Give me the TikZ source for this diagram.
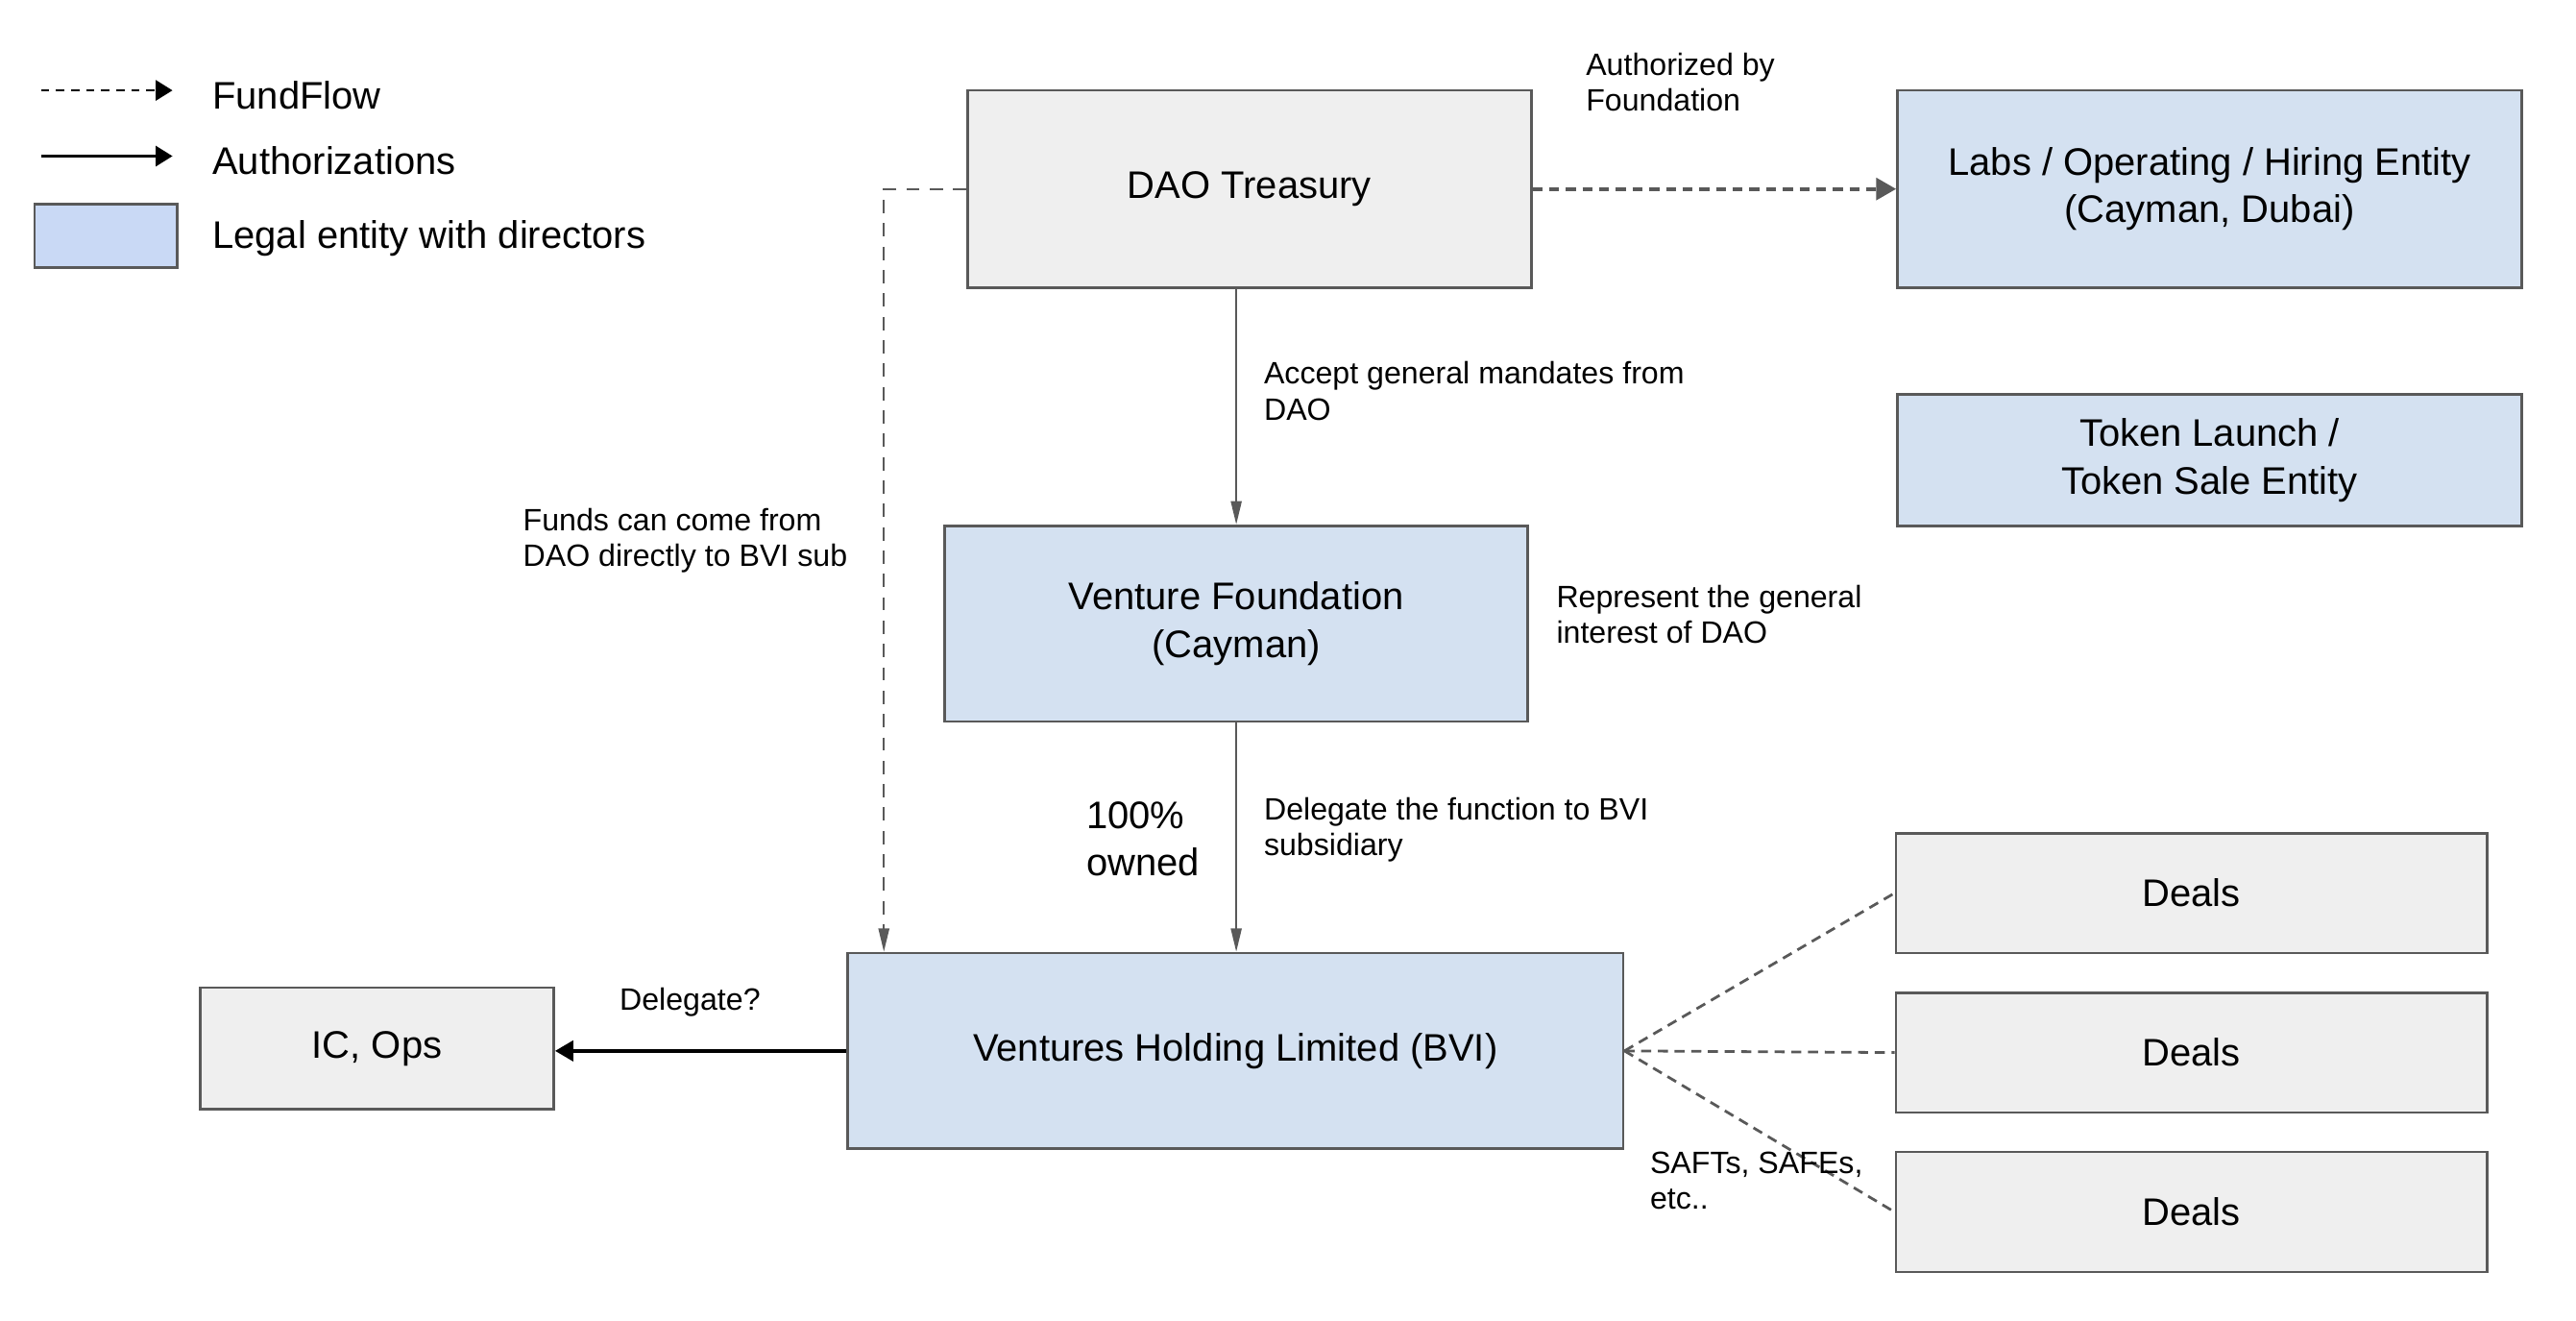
\documentclass[tikz,border=0pt]{standalone}
\usepackage{fontspec}
\setmainfont{Liberation Sans}
\usepackage{xcolor}
\usetikzlibrary{arrows.meta,positioning,calc}

\definecolor{boxline}{HTML}{595959}
\definecolor{grayfill}{HTML}{EFEFEF}
\definecolor{bluefill}{HTML}{D4E1F1}
\definecolor{legendblue}{HTML}{C9D9F5}
\newcommand{\dpx}{0.017303cm}

\begin{document}
\begin{tikzpicture}[x=0.017303cm,y=-0.017303cm,
		box/.style={draw=boxline,line width=0.8pt,fill=grayfill,align=center,inner sep=0pt,font=\fontsize{11.5}{14.3}\selectfont},
		entity/.style={box,fill=bluefill},
		note/.style={inner sep=0pt,anchor=west,align=left,font=\fontsize{9.25}{10.8}\selectfont},
		bignote/.style={note,font=\fontsize{11.5}{14.3}\selectfont},
		auth/.style={draw=boxline,line width=0.6pt,-{Triangle[length=7pt,width=3.2pt]}},
		fund/.style={draw=boxline,line width=0.6pt,dash pattern=on 4pt off 3pt,-{Triangle[length=7pt,width=3.2pt]}},
		deal/.style={draw=boxline,line width=0.8pt,dash pattern=on 3pt off 2pt}]
	\useasboundingbox (0,0) rectangle (1568,803.3);
	\draw[black,line width=0.8pt,dash pattern=on 2.5pt off 2pt,-{Triangle[length=5pt,width=6pt]}] (25,55) coordinate (legfund) -- (105,55);
	\node[bignote] (legfundtxt) at (129,58) {FundFlow};
	\draw[black,line width=0.8pt,-{Triangle[length=5pt,width=6pt]}] (25,95) coordinate (legauth) -- (105,95);
	\node[bignote] (legauthtxt) at (129,98) {Authorizations};
	\node[box,fill=legendblue,minimum width=87*\dpx,minimum height=39*\dpx] (legbox) at (64.5,143.5) {};
	\node[bignote] (legboxtxt) at (129,145) {Legal entity with directors};
	\node[box,minimum width=343*\dpx,minimum height=120*\dpx] (dao) at (760.5,115) {DAO Treasury};
	\node[entity,minimum width=380*\dpx,minimum height=120*\dpx] (labs) at (1345,115) {Labs / Operating / Hiring Entity\\(Cayman, Dubai)};
	\node[entity,minimum width=380*\dpx,minimum height=80*\dpx] (token) at (1345,280) {Token Launch /\\Token Sale Entity};
	\node[entity,minimum width=355*\dpx,minimum height=119*\dpx] (vf) at (752.5,379.5) {Venture Foundation\\(Cayman)};
	\node[entity,minimum width=472*\dpx,minimum height=119*\dpx] (vhl) at (752,639.5) {Ventures Holding Limited (BVI)};
	\node[box,minimum width=215*\dpx,minimum height=74*\dpx] (icops) at (229.5,638) {IC, Ops};
	\foreach \i/\y in {1/543.5,2/640.5,3/737.5}
		\node[box,minimum width=360*\dpx,minimum height=73*\dpx] (deals\i) at (1334,\y) {Deals};
	\draw[draw=boxline,line width=1.2pt,dash pattern=on 3pt off 2pt,-{Triangle[length=6pt,width=6.5pt]}] (dao.east) -- (labs.west);
	\node[note] (authby) at (965,50) {Authorized by\\Foundation};
	\draw[auth] (dao.south -| vf.north) -- (vf.north);
	\node[note] (mandate) at (769,238) {Accept general mandates from\\DAO};
	\node[note] (represent) at (947,374) {Represent the general\\interest of DAO};
	\draw[auth] (vf.south) -- (vhl.north -| vf.south);
	\node[note] (delegfn) at (769,505) {Delegate the function to BVI\\subsidiary};
	\node[bignote] (owned) at (661,510.5) {100\%\\owned};
	\coordinate (fundcorner) at (538,115);
	\draw[fund] (dao.west) -- (fundcorner) -- (fundcorner |- vhl.north);
	\node[note] (direct) at (318,329) {Funds can come from\\DAO directly to BVI sub};
	\draw[black,line width=1.3pt,-{Triangle[length=5.5pt,width=6pt]}] (vhl.west) -- (vhl.west -| icops.east);
	\node[note,anchor=center] (delegq) at (420,610) {Delegate?};
	\foreach \i in {1,2,3}
		\draw[deal] (vhl.east) -- (deals\i.west);
	\node[note] (safts) at (1004,718.5) {SAFTs, SAFEs,\\etc..};
\end{tikzpicture}
\end{document}
